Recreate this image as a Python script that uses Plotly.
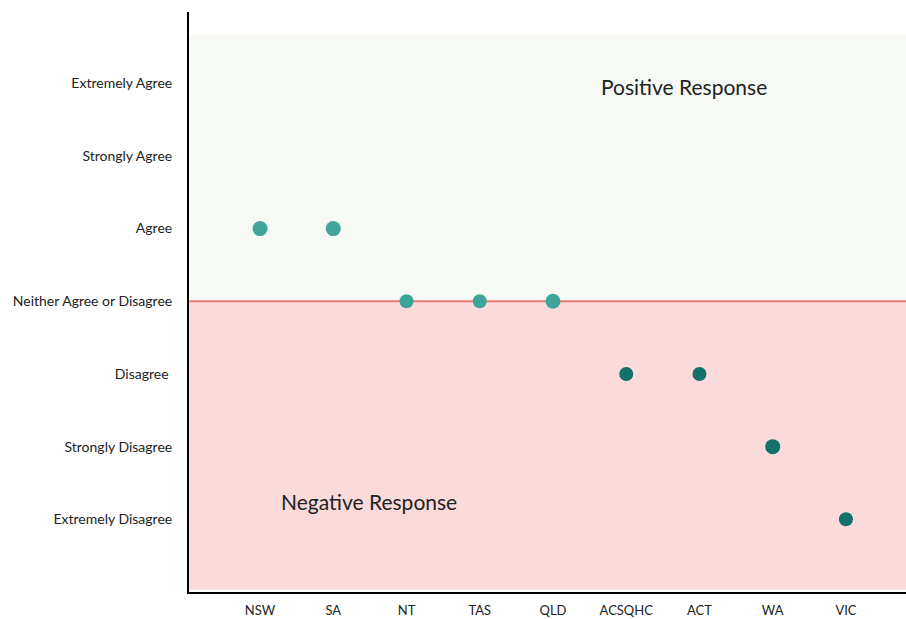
import plotly.graph_objects as go

categories = ["NSW", "SA", "NT", "TAS", "QLD", "ACSQHC", "ACT", "WA", "VIC"]
levels = ["Extremely Disagree", "Strongly Disagree", "Disagree ", "Neither Agree or Disagree",
          "Agree", "Strongly Agree", "Extremely Agree"]
level_values = [1, 2, 3, 4, 5, 6, 7]
responses = [5, 5, 4, 4, 4, 3, 3, 2, 1]
point_colors = ["#3fa59b"] * 5 + ["#13706a"] * 4
point_sizes = [15, 15, 14, 14, 15, 14, 14, 15, 14]

fig = go.Figure()

# background regions
fig.add_shape(type="rect", xref="paper", yref="y", x0=0, x1=1, y0=4, y1=7.66,
              fillcolor="#f7f9f4", line_width=0, layer="below")
fig.add_shape(type="rect", xref="paper", yref="y", x0=0, x1=1, y0=0.03, y1=4,
              fillcolor="#fadadb", line_width=0, layer="below")
fig.add_shape(type="line", xref="paper", yref="y", x0=0, x1=1, y0=4, y1=4,
              line=dict(color="#ec7a70", width=2), layer="below")

fig.add_trace(go.Scatter(
    x=list(range(len(categories))), y=responses, mode="markers",
    marker=dict(color=point_colors, size=point_sizes, line_width=0, opacity=1),
    opacity=1, showlegend=False))

fig.add_annotation(x=5.79, y=6.96, xref="x", yref="y", text="Positive Response",
                   showarrow=False, font=dict(size=21, color="#222", family="Lato"))
fig.add_annotation(x=1.49, y=1.25, xref="x", yref="y", text="Negative Response",
                   showarrow=False, font=dict(size=21, color="#222", family="Lato"))

fig.update_layout(
    width=906, height=619,
    margin=dict(l=189, r=0, t=12, b=27),
    plot_bgcolor="white", paper_bgcolor="white",
    font=dict(family="Lato", size=13, color="#222"),
)
fig.update_xaxes(
    range=[-0.97, 8.82], tickmode="array", tickvals=list(range(len(categories))),
    ticktext=categories, showgrid=False, zeroline=False, showline=True,
    linecolor="black", linewidth=2, ticks="", ticklabelstandoff=5,
    tickfont=dict(size=13),
)
fig.update_yaxes(
    range=[0, 7.98], tickmode="array", tickvals=level_values, ticktext=levels,
    showgrid=False, zeroline=False, showline=True, linecolor="black", linewidth=2,
    ticks="", ticklabelstandoff=12, tickfont=dict(size=14),
)

fig.write_html("out.html", config={"displayModeBar": False},
               post_script="document.body.style.margin='0';document.body.style.overflow='hidden';")
